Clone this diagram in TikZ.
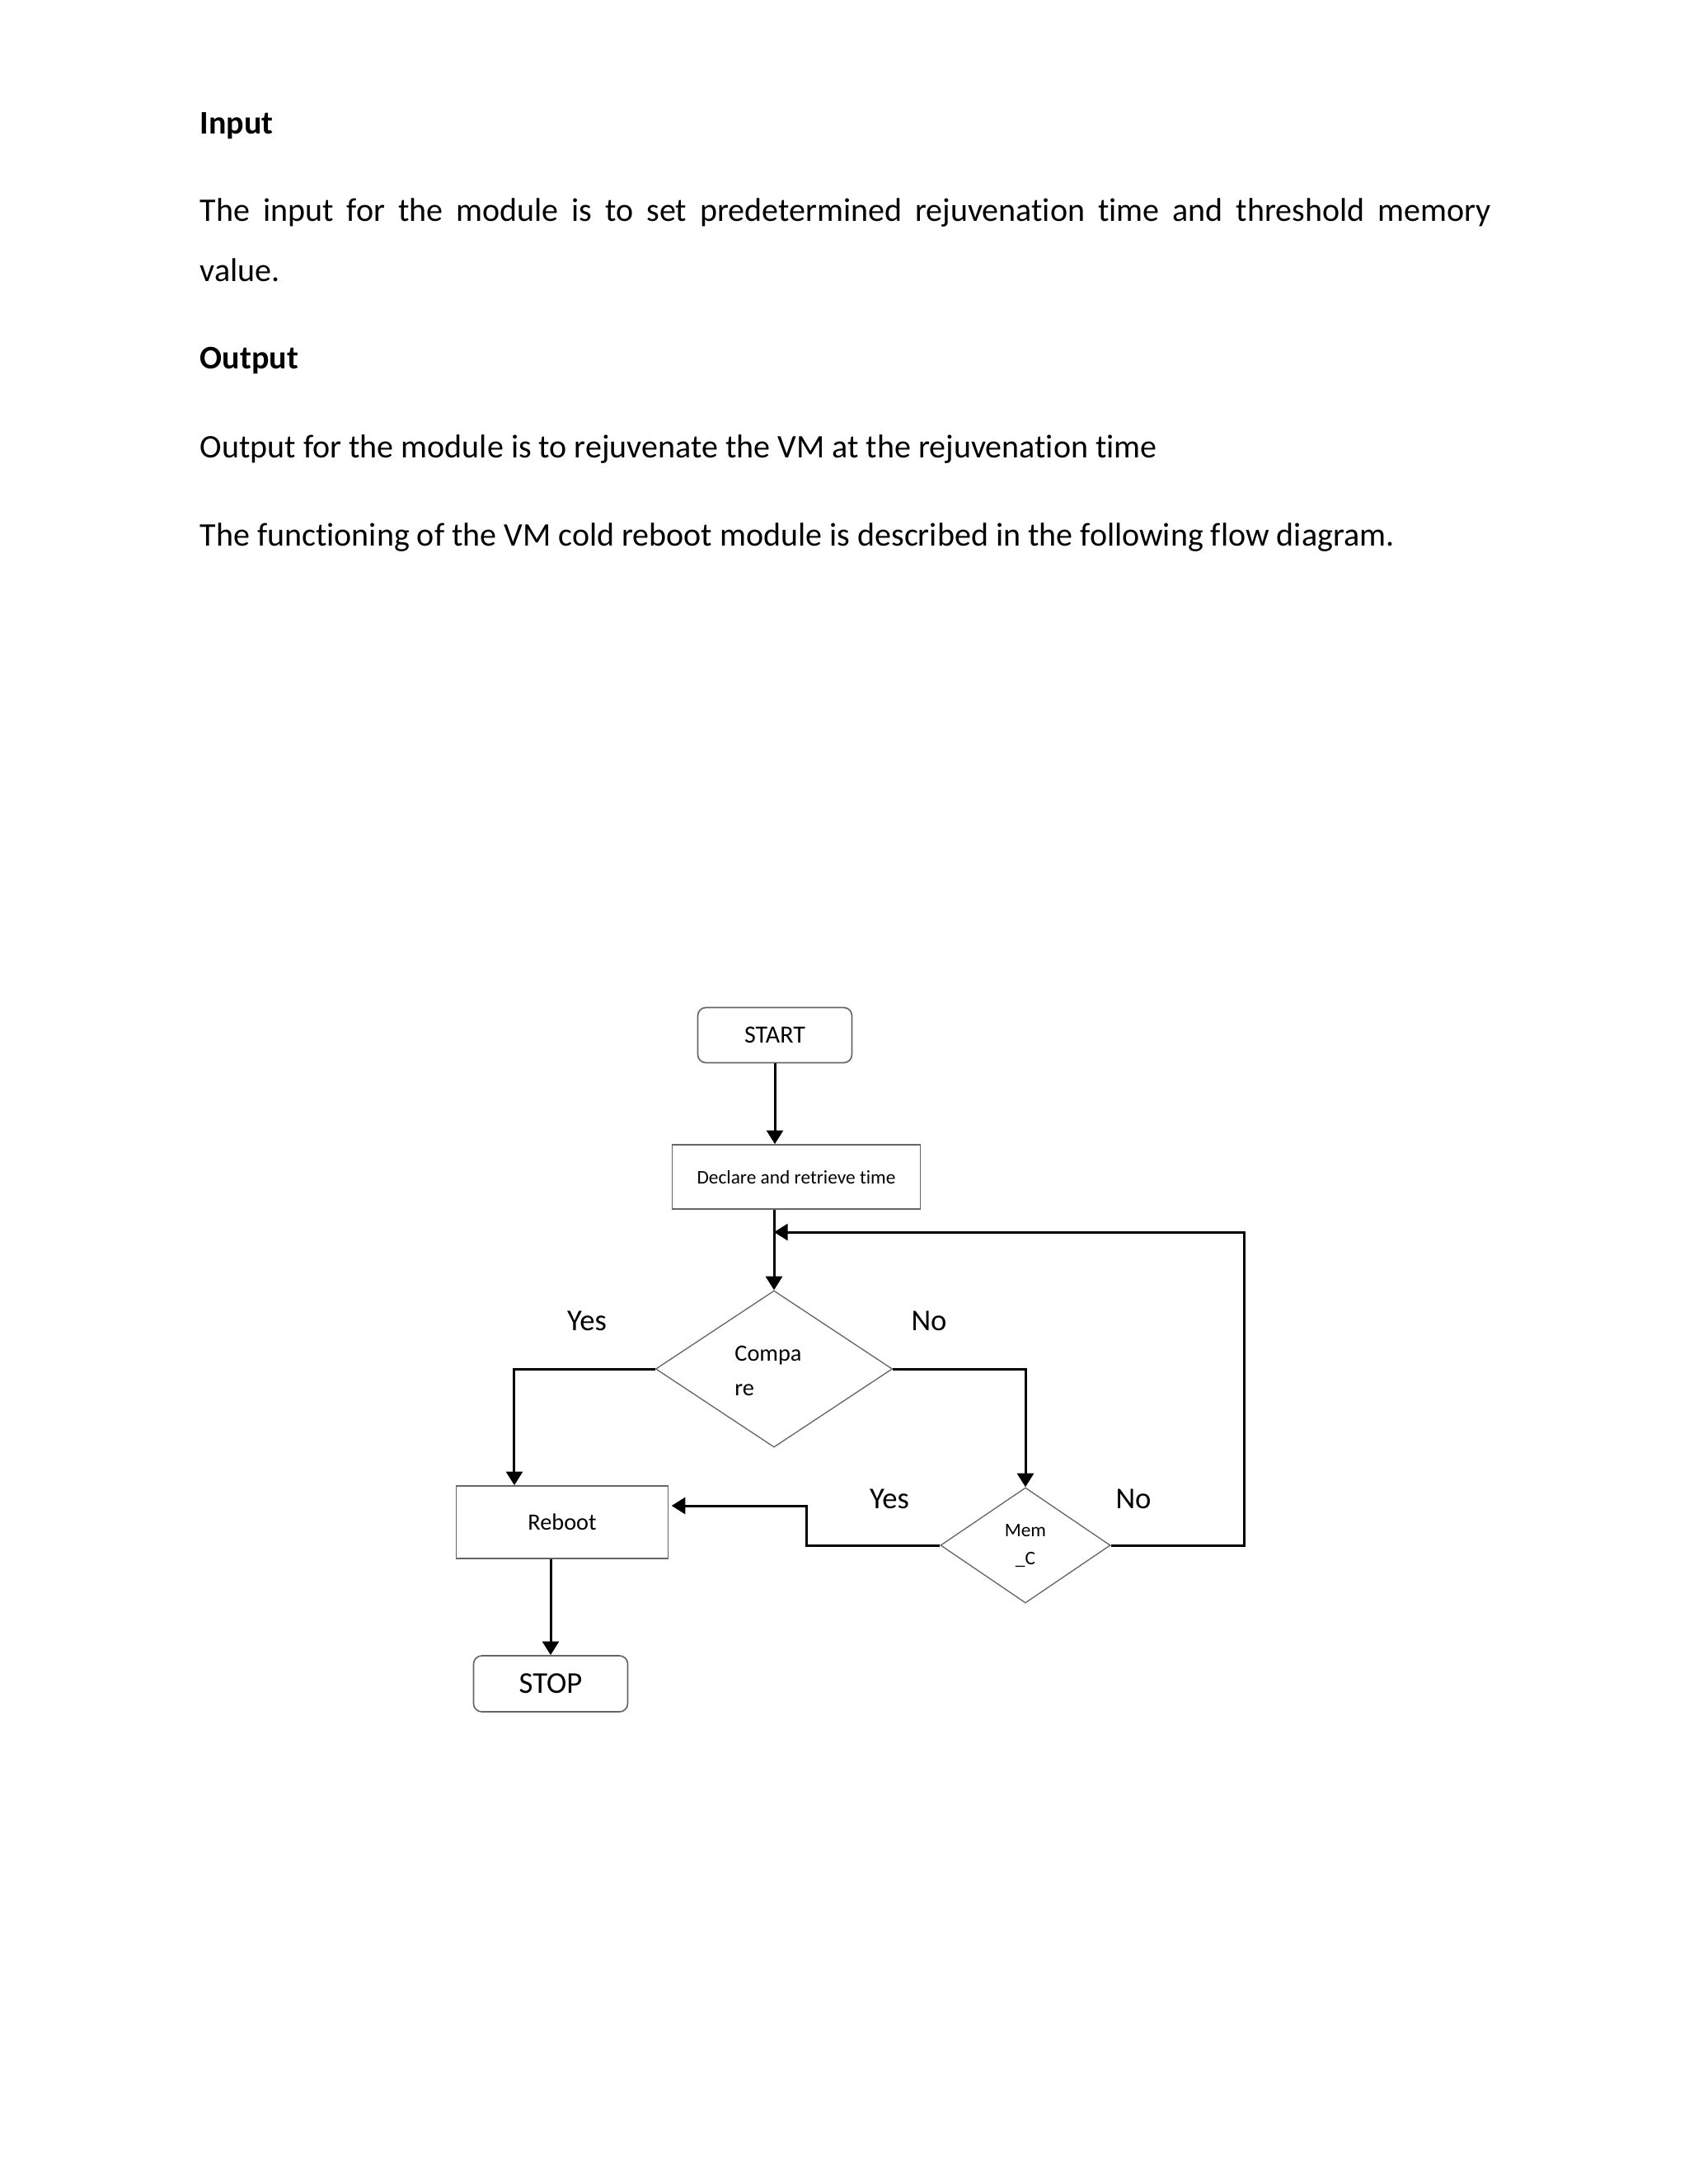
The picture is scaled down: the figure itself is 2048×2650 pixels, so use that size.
\documentclass[tikz,border=0pt]{standalone}
\usepackage{fontspec}
\setmainfont{Carlito}[Ligatures=NoCommon]
\usetikzlibrary{shapes.geometric,arrows.meta}

\tikzset{
  box/.style={draw=black!60, line width=0.5pt, inner sep=0pt},
  terminal/.style={box, rounded corners=3pt},
  decision/.style={draw=black!60, line width=0.4pt, shape=diamond, inner sep=0pt},
  arr/.style={line width=0.9pt, -{Triangle[width=6pt,length=5pt]}},
  para/.style={anchor=base west, inner sep=0pt, font=\fontsize{12}{14}\selectfont},
  head/.style={para, font=\fontsize{12}{14}\selectfont\bfseries},
  lbl/.style={inner sep=0pt, font=\fontsize{11}{13}\selectfont},
}

\begin{document}
\begin{tikzpicture}[x=0.29995pt, y=-0.29995pt]
  \useasboundingbox (0,0) rectangle (2048,2650);

  % text above the chart
  \node[head] (inhead) at (242,162) {Input};
  \node[para] (inline) at (242,268) {\makebox[6.5in][s]{The input for the module is to set predetermined rejuvenation time and threshold memory}};
  \node[para] (inval) at (242,341) {value.};
  \node[head] (outhead) at (242,447) {Output};
  \node[para] (outline) at (242,555) {Output for the module is to rejuvenate the VM at the rejuvenation time};
  \node[para] (funline) at (242,662) {The functioning of the VM cold reboot module is described in the following flow diagram.};

  % flow chart
  \node[terminal, minimum width=56.1pt, minimum height=20.1pt, font=\fontsize{9}{11}\selectfont] (start) at (940,1256) {START};
  \node[box, minimum width=90.3pt, minimum height=23.4pt, font=\fontsize{7}{9}\selectfont] (decl) at (966,1428) {Declare and retrieve time};
  \node[decision, minimum width=86.1pt, minimum height=57pt] (cmp) at (939,1661) {};
  \node[align=left, inner sep=0pt, font=\fontsize{8.5}{12.6}\selectfont] (cmptxt) at (932,1663) {Compa\\re};
  \node[box, minimum width=77.1pt, minimum height=26.4pt, font=\fontsize{8.5}{10}\selectfont] (reboot) at (682,1847) {Reboot};
  \node[decision, minimum width=61.8pt, minimum height=42pt] (mem) at (1244,1875) {};
  \node[align=center, inner sep=0pt, font=\fontsize{7}{10.2}\selectfont] (memtxt) at (1244,1876) {Mem\\\_C};
  \node[terminal, minimum width=56.1pt, minimum height=20.4pt, font=\fontsize{11}{13}\selectfont] (stop) at (668,2043) {STOP};

  \node[lbl] (yes1) at (712,1603) {Yes};
  \node[lbl] (no1) at (1127,1603) {No};
  \node[lbl] (yes2) at (1079,1819) {Yes};
  \node[lbl] (no2) at (1375,1819) {No};

  \coordinate (bend) at (978,1827);
  \coordinate (loopR) at (1509,1495);

  \draw[arr] (start) -- (start |- decl.north);
  \draw[arr] (cmp.north |- decl.south) -- (cmp.north);
  \draw[arr] (cmp.west) -| ([xshift=-17.4pt]reboot.north);
  \draw[arr] (cmp.east) -| (mem.north);
  \draw[arr] (mem.west) -| (bend) -- ([xshift=1pt]bend -| reboot.east);
  \draw[arr] (mem.east) -| (loopR) -- (loopR -| cmp.north);
  \draw[arr] (reboot.south -| stop.north) -- (stop.north);
\end{tikzpicture}
\end{document}
